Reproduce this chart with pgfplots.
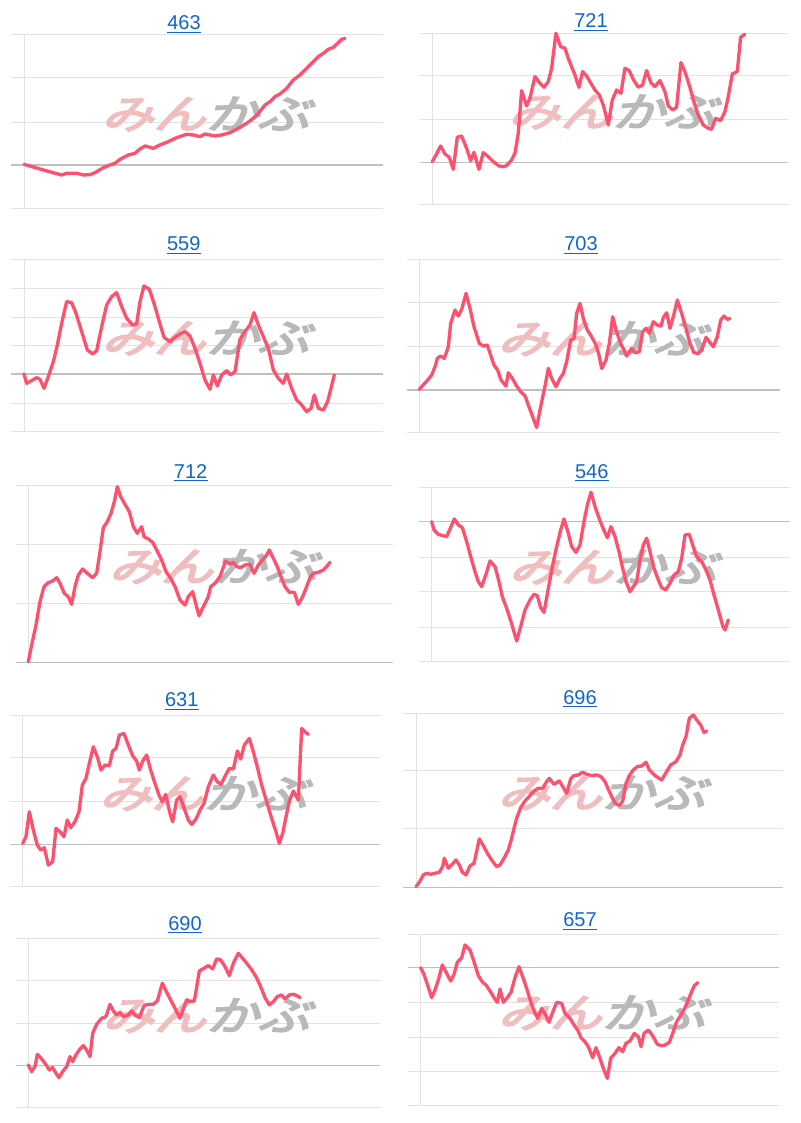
\documentclass[border=0pt]{standalone}
\usepackage{fontspec}
\setmainfont{Liberation Sans}
\newfontfamily\wmfont[FakeBold=4,FakeSlant=0.25]{Noto Sans CJK JP}
\usepackage{pgfplots}
\pgfplotsset{compat=1.18}
\definecolor{linecol}{RGB}{252,82,112}
\definecolor{gridcol}{RGB}{226,226,226}
\definecolor{basecol}{RGB}{192,192,192}
\definecolor{linkblue}{RGB}{17,102,204}
\definecolor{wmpink}{RGB}{240,190,190}
\definecolor{wmgray}{RGB}{185,185,185}
\pgfplotsset{
  mini/.style={
    scale only axis, clip=false, anchor=south west,
    xmin=0,
    axis line style={draw=none},
    xtick=\empty,
    ytick pos=left,
    yticklabels={},
    tick align=outside,
    major tick length=9.5pt,
    ymajorgrids,
    major grid style={draw=gridcol, line width=0.75pt},
    tick style={draw=gridcol, line width=0.75pt},
    extra y ticks={0},
    extra y tick labels={},
    extra y tick style={major grid style={draw=basecol, line width=0.9pt}, major tick style={draw=basecol, line width=0.9pt}},
  },
  pline/.style={color=linecol, line width=2.5pt, mark=none, line join=round, line cap=round},
}
\newcommand\wmark{%
  \draw[gridcol, line width=0.75pt] (rel axis cs:0,0) -- (rel axis cs:0,1);
  \node[anchor=center, xscale=1.3, inner sep=0] at (rel axis cs:0.505,0.542)
    {\wmfont\fontsize{30pt}{30pt}\selectfont\textcolor{wmpink}{みん}\textcolor{wmgray}{かぶ}};
}
\newcommand\ptitle[3]{%
  \node[anchor=base, inner sep=0, text=linkblue, font=\fontsize{15pt}{18pt}\selectfont] (#1) at #2 {#3};
  \draw[linkblue, line width=0.8pt] ([yshift=-1.6pt]#1.base west) -- ([yshift=-1.6pt]#1.base east);
}
\begin{document}
\begin{tikzpicture}
\fill[white] (0,0) rectangle (600pt,842.25pt);
\useasboundingbox (0,0) rectangle (600pt,842.25pt);

% ---------- 463 ----------
\ptitle{t1}{(138pt,819.75pt)}{463}
\begin{axis}[mini, at={(18pt,686pt)}, width=269.5pt, height=130.5pt,
  xmax=1078, ymin=-130, ymax=392, ytick={-130,128,262,392}]
\wmark
\addplot[pline] coordinates {(0,2) (58,-15) (113,-30) (128,-25) (158,-25) (178,-30) (198,-29) (213,-23) (238,-8) (258,0) (273,5) (288,17) (313,30) (333,35) (348,48) (363,57) (388,50) (408,60) (433,70) (458,82) (488,92) (508,90) (528,85) (543,93) (558,90) (573,87) (593,90) (618,97) (643,110) (668,125) (688,140) (703,155) (723,180) (738,190) (753,205) (768,213) (788,230) (808,255) (828,270) (843,285) (863,305) (883,325) (898,335) (913,347) (928,353) (943,367) (953,377) (963,380)};
\end{axis}

% ---------- 721 ----------
\ptitle{t2}{(443.25pt,821.25pt)}{721}
\begin{axis}[mini, at={(324.2pt,688.5pt)}, width=267pt, height=128.8pt,
  xmax=1068, ymin=-128, ymax=387, ytick={-128,129,259,387}]
\wmark
\addplot[pline] coordinates {(0,2) (13,25) (25,49) (38,25) (51,15) (63,-21) (75,75) (88,79) (103,42) (115,5) (125,30) (140,-21) (153,29) (168,17) (183,2) (200,-11) (213,-13) (223,-10) (238,7) (248,27) (258,87) (268,215) (283,169) (293,192) (308,257) (323,237) (335,225) (348,242) (358,282) (371,387) (385,347) (398,342) (408,312) (418,287) (428,262) (440,225) (451,272) (463,259) (473,242) (488,217) (501,202) (513,172) (528,112) (540,187) (553,217) (566,207) (578,282) (591,275) (603,249) (618,225) (631,232) (643,275) (656,239) (668,227) (683,245) (698,212) (708,169) (721,157) (733,165) (746,299) (758,272) (773,225) (786,177) (798,142) (813,112) (828,102) (838,99) (850,132) (865,125) (878,152) (888,197) (900,265) (915,272) (925,375) (938,384)};
\end{axis}

% ---------- 559 ----------
\ptitle{t3}{(137.8pt,654pt)}{559}
\begin{axis}[mini, at={(18pt,518.5pt)}, width=269.5pt, height=129.3pt,
  xmax=1078, ymin=-173, ymax=344, ytick={-173,-88,84,170,257,344}]
\wmark
\addplot[pline] coordinates {(0,0) (8,-28) (23,-20) (38,-11) (48,-16) (60,-43) (73,-8) (88,37) (100,87) (113,152) (128,217) (143,214) (156,182) (173,127) (190,72) (206,60) (218,70) (233,142) (248,207) (263,232) (278,244) (293,202) (308,167) (326,147) (338,150) (348,217) (360,264) (376,254) (390,212) (406,157) (420,110) (438,97) (453,110) (468,120) (483,127) (498,114) (513,77) (528,32) (543,-18) (558,-46) (568,-3) (580,-36) (593,-3) (608,10) (620,-3) (633,7) (648,104) (663,127) (678,147) (690,184) (703,147) (718,112) (733,77) (748,12) (763,-13) (778,-28) (788,0) (803,-43) (818,-78) (833,-93) (848,-113) (861,-103) (871,-63) (883,-103) (898,-108) (911,-83) (931,-3)};
\end{axis}

% ---------- 703 ----------
\ptitle{t4}{(435.75pt,654pt)}{703}
\begin{axis}[mini, at={(314.5pt,517.7pt)}, width=270.5pt, height=130pt,
  xmax=1082, ymin=-128, ymax=392, ytick={-128,130,263,392}]
\wmark
\addplot[pline] coordinates {(0,2) (14,18) (27,32) (37,45) (47,70) (54,95) (64,102) (75,95) (87,130) (94,200) (107,240) (117,222) (127,242) (140,290) (152,245) (164,190) (180,140) (192,132) (204,135) (214,105) (224,75) (235,60) (245,30) (260,12) (267,52) (282,30) (292,12) (304,-5) (317,-17) (327,-45) (340,-80) (352,-112) (364,-50) (377,12) (387,65) (397,35) (410,10) (422,35) (432,50) (442,85) (454,150) (464,155) (472,230) (482,260) (492,215) (504,180) (517,160) (530,135) (539,105) (547,65) (560,90) (570,140) (580,220) (590,180) (604,140) (614,120) (622,102) (637,125) (647,112) (660,115) (670,175) (680,185) (690,170) (702,205) (714,195) (725,192) (732,218) (742,232) (752,185) (762,220) (774,270) (787,230) (800,185) (812,140) (824,112) (837,110) (847,120) (860,158) (870,145) (882,130) (894,160) (904,210) (914,222) (924,212) (932,215)};
\end{axis}

% ---------- 712 ----------
\ptitle{t5}{(143pt,483.2pt)}{712}
\begin{axis}[mini, at={(21.25pt,345.5pt)}, width=273.75pt, height=132.5pt,
  xmax=1095, ymin=0, ymax=530, ytick={177,352,530}]
\wmark
\addplot[pline] coordinates {(0,2) (10,52) (23,112) (35,182) (47,227) (60,239) (73,244) (85,254) (95,237) (108,207) (120,197) (130,174) (140,227) (150,262) (163,280) (177,267) (193,254) (205,267) (215,332) (225,404) (237,422) (248,447) (258,482) (267,527) (277,497) (290,474) (303,452) (315,407) (327,387) (340,407) (347,377) (360,370) (373,360) (385,337) (400,307) (413,272) (427,252) (440,227) (455,187) (470,172) (480,197) (493,212) (502,177) (512,140) (525,167) (540,197) (547,227) (560,237) (575,257) (592,304) (605,294) (615,300) (625,287) (637,284) (650,292) (665,294) (677,267) (690,292) (705,310) (715,322) (723,337) (735,312) (747,287) (758,257) (770,227) (783,210) (798,210) (810,174) (823,197) (833,222) (845,254) (855,267) (870,270) (885,277) (895,287) (905,300)};
\end{axis}

% ---------- 546 ----------
\ptitle{t6}{(443.8pt,483.2pt)}{546}
\begin{axis}[mini, at={(323.75pt,346pt)}, width=268.75pt, height=130.8pt,
  xmax=1075, ymin=-420, ymax=103, ytick={-420,-317,-210,-107,103}]
\wmark
\addplot[pline] coordinates {(0,0) (7,-25) (20,-38) (33,-42) (45,-45) (57,-18) (68,8) (80,-10) (92,-18) (105,-60) (117,-105) (130,-150) (140,-180) (150,-195) (163,-158) (175,-118) (190,-135) (202,-180) (212,-225) (225,-260) (238,-300) (255,-358) (267,-315) (280,-265) (295,-235) (307,-218) (317,-222) (327,-258) (337,-272) (350,-200) (363,-130) (375,-75) (387,-25) (397,8) (410,-35) (420,-75) (433,-92) (445,-70) (457,0) (467,50) (478,88) (490,45) (503,8) (515,-22) (527,-48) (538,-15) (550,-45) (562,-90) (573,-140) (583,-180) (595,-210) (605,-195) (615,-180) (625,-115) (635,-70) (645,-50) (655,-90) (667,-140) (680,-175) (690,-198) (702,-205) (715,-185) (727,-160) (740,-150) (750,-110) (760,-40) (773,-38) (783,-70) (795,-105) (810,-120) (823,-145) (835,-175) (847,-220) (860,-265) (873,-312) (880,-325) (890,-295)};
\end{axis}

% ---------- 631 ----------
\ptitle{t7}{(136.3pt,312pt)}{631}
\begin{axis}[mini, at={(17pt,177.2pt)}, width=268pt, height=128.75pt,
  xmax=1072, ymin=-127, ymax=388, ytick={-127,128,261,388}]
\wmark
\addplot[pline] coordinates {(0,3) (10,23) (20,98) (32,43) (44,-2) (54,-17) (65,-10) (77,-62) (90,-52) (100,48) (112,38) (124,23) (134,73) (144,50) (157,68) (169,98) (179,178) (190,198) (200,243) (212,293) (224,263) (235,223) (247,238) (260,236) (270,280) (280,288) (290,328) (304,333) (317,298) (330,266) (342,250) (350,223) (360,250) (372,268) (384,223) (397,183) (409,148) (419,128) (429,150) (442,93) (450,68) (462,133) (472,143) (484,110) (497,73) (507,60) (520,76) (532,103) (544,123) (557,173) (572,208) (584,188) (595,180) (609,208) (620,228) (632,226) (644,280) (654,256) (665,298) (680,318) (692,278) (705,228) (717,178) (732,128) (747,78) (760,38) (770,3) (780,33) (790,83) (800,130) (812,160) (827,133) (837,348) (847,338) (857,330)};
\end{axis}

% ---------- 696 ----------
\ptitle{t8}{(435pt,313.7pt)}{696}
\begin{axis}[mini, at={(312pt,176.8pt)}, width=275.5pt, height=130.5pt,
  xmax=1102, ymin=0, ymax=522, ytick={175,349,522}]
\wmark
\addplot[pline] coordinates {(0,2) (10,15) (22,37) (32,42) (44,39) (57,42) (70,45) (80,62) (85,87) (97,57) (109,69) (120,82) (130,67) (139,45) (150,37) (162,64) (174,72) (190,145) (202,125) (214,102) (227,82) (242,62) (252,67) (264,87) (277,112) (287,147) (294,177) (302,207) (314,239) (327,259) (342,275) (354,289) (367,297) (380,297) (392,317) (400,327) (414,309) (430,319) (442,299) (452,282) (464,325) (474,335) (487,337) (500,345) (512,339) (527,335) (542,337) (555,332) (567,317) (580,287) (597,252) (610,245) (620,259) (630,312) (640,335) (652,352) (664,362) (677,364) (690,375) (700,352) (717,335) (737,322) (752,347) (764,367) (780,377) (792,397) (800,427) (810,452) (820,507) (832,517) (842,502) (854,487) (864,464) (872,469)};
\end{axis}

% ---------- 690 ----------
\ptitle{t9}{(138.75pt,144.5pt)}{690}
\begin{axis}[mini, at={(21.25pt,11.8pt)}, width=263.75pt, height=126.75pt,
  xmax=1055, ymin=-125, ymax=382, ytick={-125,127,254,382}]
\wmark
\addplot[pline] coordinates {(0,2) (10,-18) (20,-3) (27,34) (37,24) (50,7) (63,-13) (73,-6) (83,-23) (92,-36) (103,-18) (115,-3) (125,27) (133,12) (143,32) (155,50) (165,60) (175,47) (185,27) (193,97) (205,124) (220,142) (233,147) (245,184) (255,164) (265,152) (275,160) (285,147) (300,152) (310,164) (320,152) (333,144) (347,180) (360,184) (375,184) (387,194) (402,247) (415,220) (427,197) (440,172) (455,142) (465,170) (475,197) (485,192) (498,194) (513,284) (527,292) (540,300) (553,290) (565,320) (577,317) (590,297) (603,270) (615,307) (630,337) (643,322) (655,307) (667,292) (683,267) (697,237) (710,204) (723,182) (735,192) (747,207) (760,212) (770,200) (783,212) (795,214) (805,210) (815,204)};
\end{axis}

% ---------- 657 ----------
\ptitle{t10}{(435pt,147pt)}{657}
\begin{axis}[mini, at={(315.5pt,13pt)}, width=268.75pt, height=128.5pt,
  xmax=1075, ymin=-414, ymax=100, ytick={-414,-312,-209,-105,100}]
\wmark
\addplot[pline] coordinates {(0,0) (10,-20) (20,-50) (33,-90) (43,-67) (53,-37) (65,8) (78,-17) (90,-40) (100,-20) (110,16) (123,30) (133,68) (148,53) (160,18) (173,-24) (186,-44) (196,-52) (208,-70) (220,-90) (230,-104) (238,-64) (248,-104) (260,-90) (271,-74) (283,-30) (295,3) (306,-27) (318,-62) (330,-102) (341,-132) (351,-152) (363,-122) (376,-144) (385,-164) (396,-134) (408,-104) (423,-107) (433,-137) (448,-152) (460,-172) (471,-187) (481,-210) (493,-222) (503,-237) (516,-270) (526,-240) (538,-272) (548,-302) (560,-332) (570,-272) (583,-257) (595,-240) (606,-252) (616,-227) (628,-220) (641,-197) (653,-207) (661,-237) (670,-197) (683,-187) (696,-204) (710,-230) (723,-234) (733,-232) (746,-224) (758,-192) (768,-162) (781,-142) (793,-120) (803,-97) (813,-72) (821,-54) (831,-45)};
\end{axis}
\end{tikzpicture}
\end{document}
